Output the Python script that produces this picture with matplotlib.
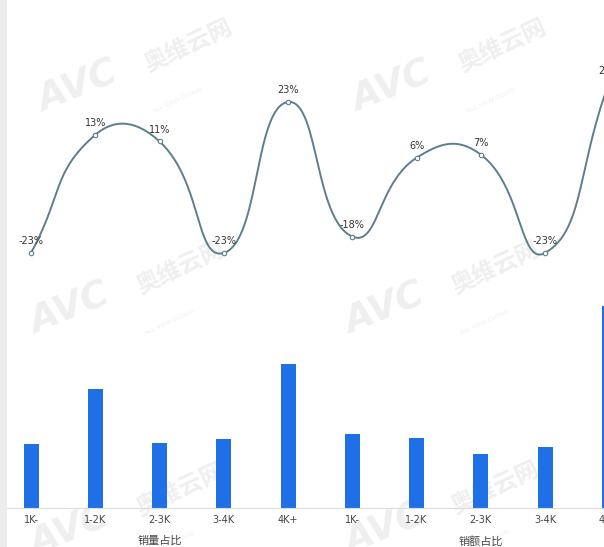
import numpy as np
import matplotlib
matplotlib.use('Agg')
import matplotlib.pyplot as plt
from matplotlib.patches import Rectangle

plt.rcParams['font.family'] = ['DejaVu Sans', 'Noto Sans CJK SC']

categories = ['1K-', '1-2K', '2-3K', '3-4K', '4K+', '1K-', '1-2K', '2-3K', '3-4K', '4K+']
groups = ['销量占比', '销额占比']
share = [13.9, 25.8, 14.1, 15.0, 31.2, 16.1, 15.2, 11.7, 13.2, 43.8]
growth = [-23, 13, 11, -23, 23, -18, 6, 7, -23, 29]
growth_labels = [f'{v}%' for v in growth]

W, H = 604, 547
fig = plt.figure(figsize=(W / 100, H / 100), dpi=100)
fig.patch.set_facecolor('white')


def fx(x):
    return x / W


def fy(y):
    return 1 - y / H


# watermarks (faint, behind everything)
wm_color = '#efefef'
for cx, cy in [(78, 88), (392, 88), (70, 310), (385, 310), (70, 532), (385, 530)]:
    fig.text(fx(cx), fy(cy), 'AVC', fontsize=27, fontweight='bold', fontstyle='italic',
             color=wm_color, rotation=22, ha='center', va='center', zorder=-10,
             family=['DejaVu Sans'])
    fig.text(fx(cx + 110), fy(cy - 42), '奥维云网', fontsize=17, fontweight='bold',
             color=wm_color, rotation=25, ha='center', va='center', zorder=-10,
             family=['Noto Sans CJK SC'])
    fig.text(fx(cx + 100), fy(cy + 12), 'ALL VIEW CLOUD', fontsize=4.5,
             color=wm_color, rotation=25, ha='center', va='center', zorder=-10)

step = 64.25
x0 = 31 - step / 2
axw = step * 10

# bar axes
bar_base = 508
bar_ppu = 4.61
bar_ymax = 50
ax_bar = fig.add_axes([fx(x0), fy(bar_base), axw / W, bar_ppu * bar_ymax / H])
ax_bar.set_facecolor('none')
x = np.arange(len(categories))
ax_bar.bar(x, share, width=15 / step, color='#1f6fe6', zorder=2)
ax_bar.set_xlim(-0.5, len(categories) - 0.5)
ax_bar.set_ylim(0, bar_ymax)
for s in ['top', 'right', 'left']:
    ax_bar.spines[s].set_visible(False)
ax_bar.spines['bottom'].set_color('#dddddd')
ax_bar.spines['bottom'].set_linewidth(0.8)
ax_bar.set_yticks([])
ax_bar.set_xticks(x)
ax_bar.set_xticklabels(categories, fontsize=7, color='#444444')
ax_bar.tick_params(axis='x', length=0, pad=5)
for gi, g in enumerate(groups):
    ax_bar.annotate(g, xy=(gi * 5 + 2, 0), xycoords=('data', 'axes fraction'),
                    xytext=(0, -33 * 0.72), textcoords='offset points',
                    ha='center', va='center', fontsize=8, color='#444444',
                    family=['Noto Sans CJK SC', 'DejaVu Sans'])

# line axes
zero_y = 177.5
ppu = 3.28
ymin, ymax = -30, 35
ax_line = fig.add_axes([fx(x0), fy(zero_y - ymin * ppu), axw / W, (ymax - ymin) * ppu / H])
ax_line.set_facecolor('none')
ax_line.set_xlim(-0.5, len(categories) - 0.5)
ax_line.set_ylim(ymin, ymax)
ax_line.axis('off')

# smooth curve (bezier smoothing in display space)
pts = ax_line.transData.transform(np.column_stack([x, growth]).astype(float))
smooth = 0.5
n = len(pts)
cp_in = np.zeros_like(pts)
cp_out = np.zeros_like(pts)
for i in range(n):
    p = pts[i]
    prev = pts[i - 1] if i > 0 else p
    nxt = pts[i + 1] if i < n - 1 else p
    v = (nxt - prev) * smooth
    d0 = np.hypot(*(p - prev))
    d1 = np.hypot(*(p - nxt))
    tot = d0 + d1
    if tot > 0:
        d0 /= tot
        d1 /= tot
    cp_in[i] = p - v * d0
    cp_out[i] = p + v * d1
curve = []
t = np.linspace(0, 1, 60)[:, None]
for i in range(n - 1):
    a, b, c, d = pts[i], cp_out[i], cp_in[i + 1], pts[i + 1]
    seg = (1 - t) ** 3 * a + 3 * (1 - t) ** 2 * t * b + 3 * (1 - t) * t ** 2 * c + t ** 3 * d
    curve.append(seg if i == 0 else seg[1:])
curve = np.vstack(curve)
curve_data = ax_line.transData.inverted().transform(curve)
line_color = '#5e7e8c'
ax_line.plot(curve_data[:, 0], curve_data[:, 1], color=line_color, lw=1.4, clip_on=False,
             solid_capstyle='round')
ax_line.plot(x, growth, linestyle='none', marker='o', markersize=3.2,
             markerfacecolor='white', markeredgecolor=line_color, markeredgewidth=0.8,
             clip_on=False)
for xi, yi, lab in zip(x, growth, growth_labels):
    ax_line.annotate(lab, xy=(xi, yi), xytext=(0, 8.5), textcoords='offset points',
                     ha='center', va='center', fontsize=7, color='#333333',
                     annotation_clip=False)

# left gray strip
fig.patches.append(Rectangle((0, 0), 7 / W, 1, transform=fig.transFigure,
                             facecolor='#ececec', edgecolor='none', zorder=10))

fig.savefig('out.png', dpi=100)
